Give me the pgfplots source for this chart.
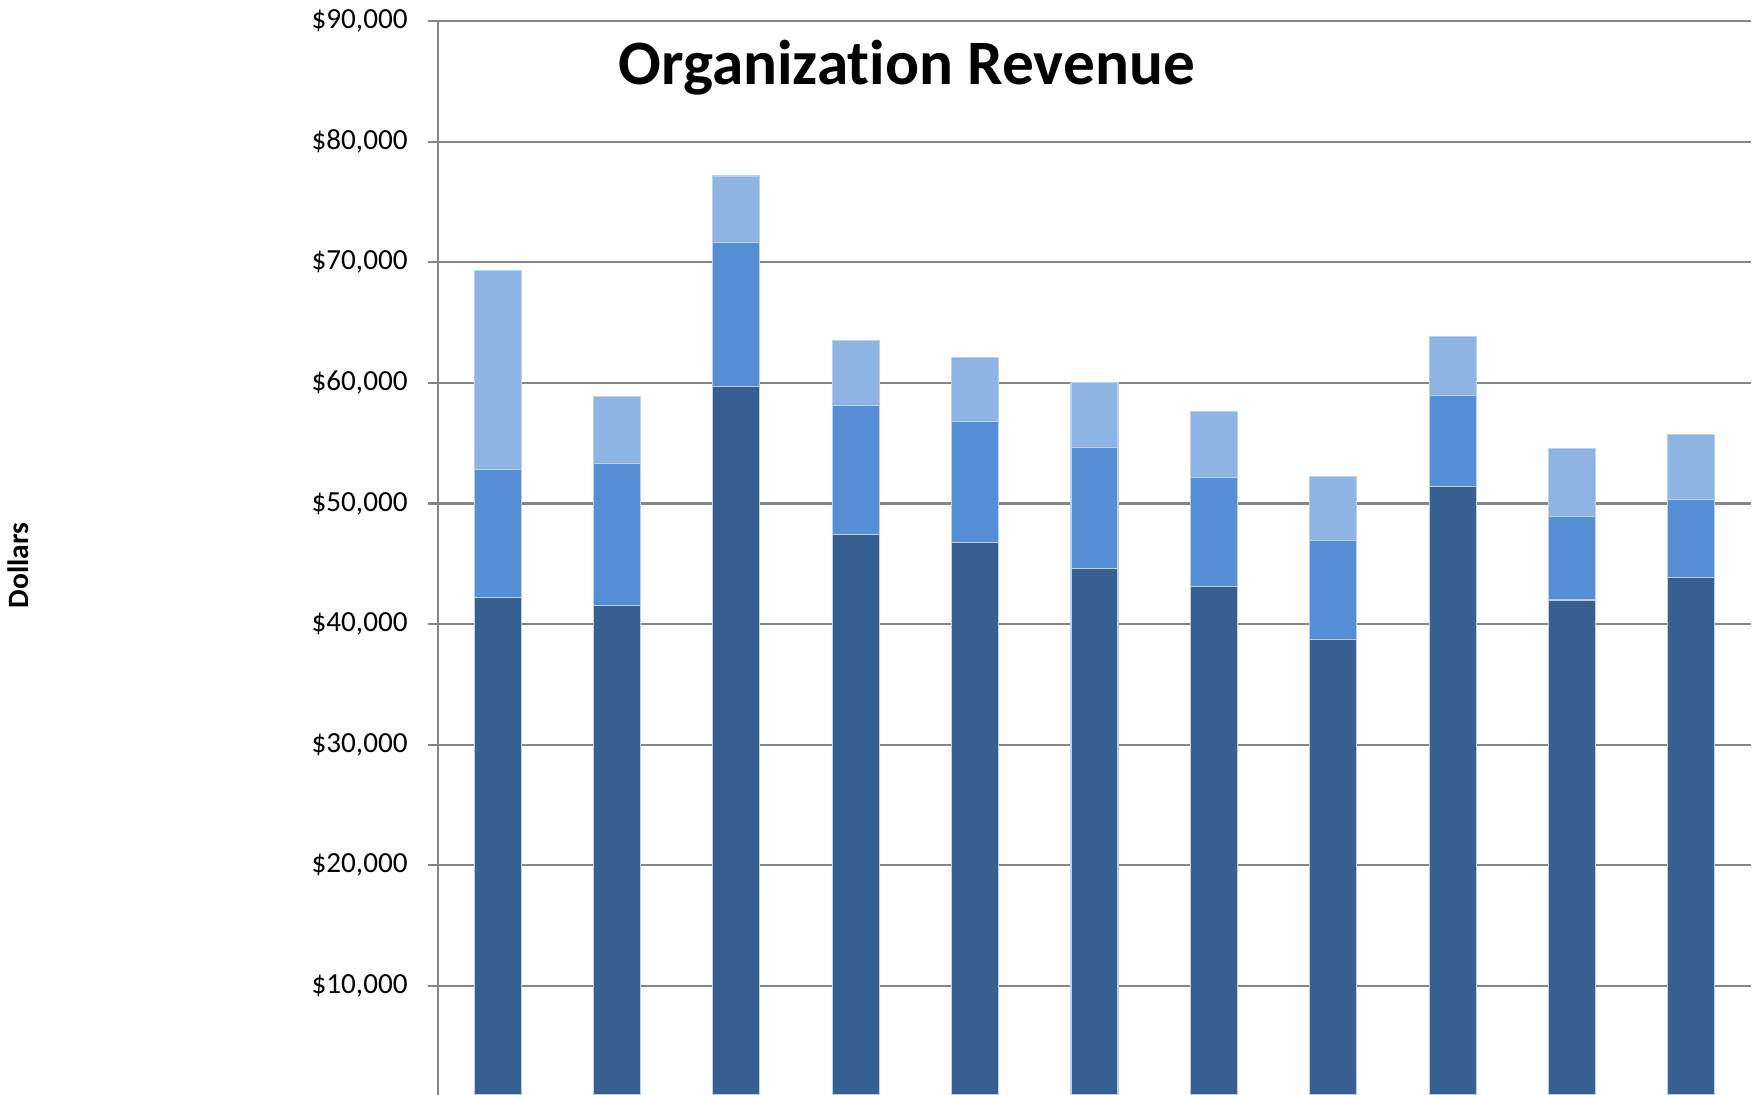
\documentclass[border=0pt]{standalone}
\usepackage{fontspec}
\setmainfont{Carlito}[Ligatures=NoCommon]
\usepackage{pgfplots}
\pgfplotsset{compat=1.18}
\usepackage{pgfplotstable}

\definecolor{rdark}{RGB}{55,96,146}
\definecolor{rmid}{RGB}{85,142,213}
\definecolor{rlight}{RGB}{142,180,227}
\definecolor{gridgray}{RGB}{134,134,134}
\definecolor{edge}{RGB}{190,208,232}

% stacked pieces per bar: base, middle, top
\pgfplotstableread{
x base mid top
0 42200 10600 16550
1 41550 11800 5500
2 59700 11900 5550
3 47400 10700 5400
4 46750 10050 5300
5 44600 10050 5400
6 43100 9050 5500
7 38750 8200 5300
8 51400 7550 4900
9 42000 6900 5650
10 43850 6450 5400
}\revtable

\begin{document}
\begin{tikzpicture}
\useasboundingbox (0,0) rectangle (176.1mm,109.5mm);
\begin{axis}[
  at={(43.8mm,0)}, anchor=south west,
  scale only axis,
  width=131.3mm, height=107.4mm,
  ybar stacked, bar width=4.7mm,
  xmin=-0.5, xmax=10.5,
  ymin=962, ymax=90000,
  xtick=\empty,
  ytick={10000,20000,...,90000},
  scaled y ticks=false,
  yticklabel={\$\pgfmathprintnumber[assume math mode=true,1000 sep={,}]{\tick}},
  yticklabel style={font=\fontsize{8.3}{10}\selectfont, text=black, xshift=-0.8mm},
  axis x line=none,
  axis y line=left,
  y axis line style={-, draw=gridgray, line width=0.6pt},
  tick align=outside,
  major tick length=1mm,
  ytick style={draw=gridgray, line width=0.6pt},
  ymajorgrids,
  grid style={draw=gridgray, line width=0.6pt},
  title={Organization Revenue},
  title style={font=\bfseries\fontsize{18}{22}\selectfont, at={(axis description cs:0.357,0.937)}, anchor=center},
  ylabel={Dollars},
  ylabel style={font=\bfseries\fontsize{8.4}{10}\selectfont, at={(axis description cs:-0.3194,0.493)}, anchor=center, rotate=0},
]
\addplot[fill=rdark, draw=edge, line width=0.3pt] table[x=x,y=base] {\revtable};
\addplot[fill=rmid, draw=edge, line width=0.3pt] table[x=x,y=mid] {\revtable};
\addplot[fill=rlight, draw=edge, line width=0.3pt] table[x=x,y=top] {\revtable};
\end{axis}
\end{tikzpicture}
\end{document}
